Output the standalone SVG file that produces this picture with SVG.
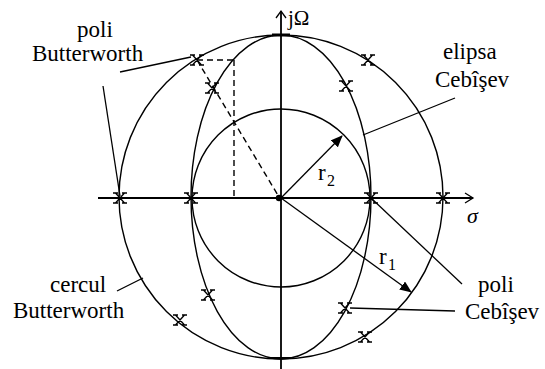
<svg xmlns="http://www.w3.org/2000/svg" xmlns:xlink="http://www.w3.org/1999/xlink" width="545" height="369" viewBox="0 0 545 369" font-family="'Liberation Serif', 'Times New Roman', serif">
<style>
.c{fill:none;stroke:#000;stroke-width:1.4}
.ax{fill:none;stroke:#000;stroke-width:1.8}
.ln{fill:none;stroke:#000;stroke-width:1.3}
.d{fill:none;stroke:#000;stroke-width:1.4;stroke-dasharray:6 4}
.p{fill:none;stroke:#000;stroke-width:1.3}
text{font-family:'Liberation Serif','Times New Roman',serif;fill:#000}
.lb{font-size:23px}
</style>
<defs>
<marker id="ah" viewBox="0 0 12 10" refX="11" refY="5" markerWidth="12" markerHeight="10" markerUnits="userSpaceOnUse" orient="auto">
<path d="M0,0 L12,5 L0,10 z" fill="#000"/>
</marker>
<symbol id="x" viewBox="-8 -7 16 14" width="16" height="14" overflow="visible">
<path class="p" d="M-4.5,-5 L4.5,5 M-4.5,5 L4.5,-5 M-7,-5 H-2 M2,-5 H7 M-7,5 H-2 M2,5 H7"/>
</symbol>
</defs>

<g id="axes">
<line class="ax" x1="98" y1="198" x2="473" y2="198"/>
<polyline class="ln" points="465,193 473,198 465,203"/>
<line class="ax" x1="281" y1="11" x2="281" y2="369"/>
<polyline class="ln" points="276,18 281,11 286,18"/>
<text x="288" y="25" font-family="'Liberation Serif', serif" font-size="21">jΩ</text>
<text x="467" y="223" font-family="'Liberation Serif', serif" font-size="22" font-style="italic">σ</text>
</g>

<g id="cercul-butterworth">
<circle class="c" cx="281" cy="197" r="162"/>
</g>
<g id="elipsa-cebisev">
<ellipse class="c" cx="281" cy="197" rx="90" ry="162"/>
</g>
<g id="cerc-r2">
<circle class="c" cx="281" cy="198" r="89"/>
</g>
<g id="ticks">
<line stroke="#000" stroke-width="3" x1="272" y1="35" x2="290" y2="35"/>
<line stroke="#000" stroke-width="2" x1="271" y1="358" x2="291" y2="358"/>
<circle cx="279" cy="198" r="3.2" fill="#000"/>
</g>

<g id="constructie">
<line class="d" x1="197" y1="60" x2="234" y2="60"/>
<line class="d" x1="234" y1="60" x2="234" y2="198"/>
<line class="d" x1="197" y1="60" x2="279" y2="197"/>
</g>

<g id="poli-butterworth">
<use xlink:href="#x" x="112" y="191"/>
<use xlink:href="#x" x="435" y="191"/>
<use xlink:href="#x" x="189" y="53"/>
<use xlink:href="#x" x="360" y="53"/>
<use xlink:href="#x" x="172" y="313"/>
<use xlink:href="#x" x="357" y="330"/>
</g>
<g id="poli-cebisev">
<use xlink:href="#x" x="183" y="191"/>
<use xlink:href="#x" x="363" y="191"/>
<use xlink:href="#x" x="204" y="81"/>
<use xlink:href="#x" x="338" y="79"/>
<use xlink:href="#x" x="200" y="288"/>
<use xlink:href="#x" x="337" y="301"/>
</g>

<g id="raze" font-family="'Liberation Serif', serif">
<line class="ln" x1="281" y1="198" x2="342" y2="136" marker-end="url(#ah)"/>
<line class="ln" x1="281" y1="198" x2="411" y2="292" marker-end="url(#ah)"/>
<text x="318" y="180" font-size="23">r</text>
<text x="327" y="186" font-size="16">2</text>
<text x="379" y="264" font-size="23">r</text>
<text x="388" y="270" font-size="16">1</text>
</g>

<g id="connectors">
<line class="ln" x1="120" y1="72" x2="191" y2="57"/>
<line class="ln" x1="103" y1="86" x2="120" y2="196"/>
<line class="ln" x1="455" y1="98" x2="363" y2="135"/>
<line class="ln" x1="117" y1="291" x2="143" y2="278"/>
<line class="ln" x1="462" y1="284" x2="371" y2="198"/>
<line class="ln" x1="455" y1="311" x2="350" y2="308"/>
</g>

<g id="label-poli-butterworth" font-family="'Liberation Serif', serif" font-size="23">
<text x="77" y="37">poli</text>
<text x="32" y="61">Butterworth</text>
</g>
<g id="label-elipsa-cebisev" font-family="'Liberation Serif', serif" font-size="23">
<text x="443" y="59">elipsa</text>
<text x="435" y="87">Cebîşev</text>
</g>
<g id="label-cercul-butterworth" font-family="'Liberation Serif', serif" font-size="23">
<text x="50" y="292">cercul</text>
<text x="13" y="318">Butterworth</text>
</g>
<g id="label-poli-cebisev" font-family="'Liberation Serif', serif" font-size="23">
<text x="478" y="292">poli</text>
<text x="465" y="319">Cebîşev</text>
</g>
</svg>
